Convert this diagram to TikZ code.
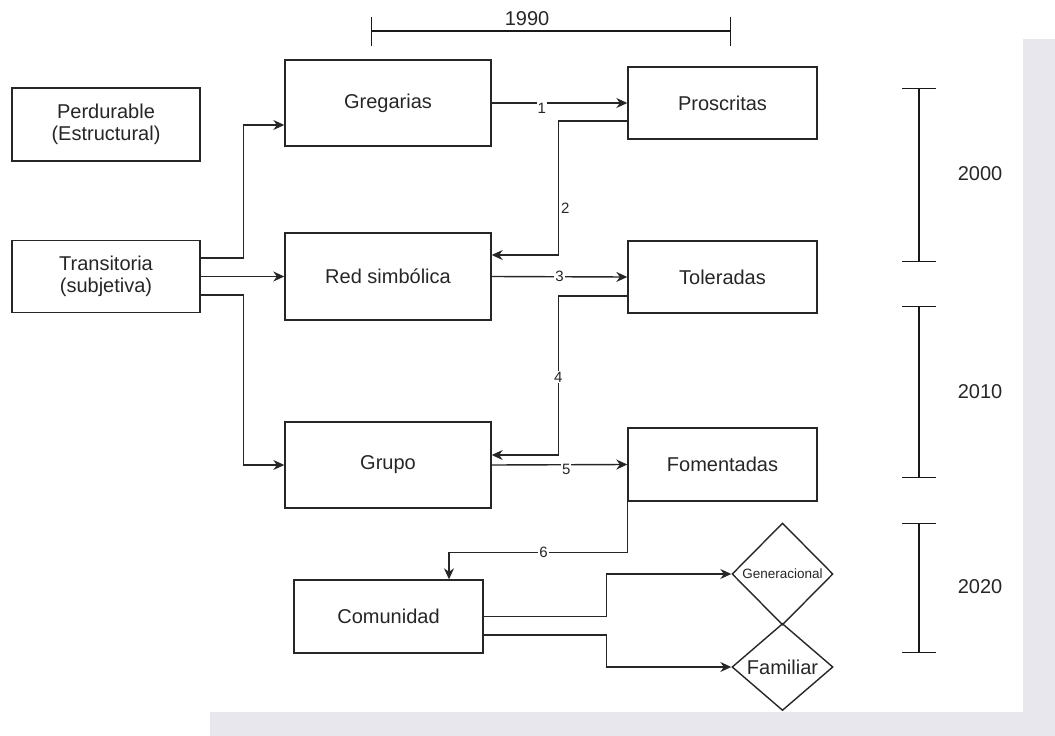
\documentclass[tikz,border=0pt]{standalone}
\usepackage{fontspec}
\setmainfont{Liberation Sans}
\usetikzlibrary{arrows.meta,shapes.geometric}

\definecolor{marca}{RGB}{231,231,237}

\begin{document}
\begin{tikzpicture}[x=1pt, y=-1pt, >={Stealth[length=11pt,width=10pt]},
    caja/.style={draw=black!85, line width=1.4pt, text=black!85, align=center, inner sep=0pt, font=\fontsize{20}{22}\selectfont},
    rombo/.style={diamond, draw=black!85, line width=1.4pt, text=black!85, inner sep=0pt},
    flecha/.style={->, draw=black!85, line width=1.4pt},
    num/.style={fill=white, inner sep=1pt, text=black!85, font=\fontsize{15}{17}\selectfont},
    periodo/.style={{Bar[width=34pt]}-{Bar[width=34pt]}, draw=black!90, line width=1.4pt},
    anio/.style={text=black!85, font=\fontsize{20}{22}\selectfont}]
    \useasboundingbox (0,0) rectangle (1055,736);
    \fill[marca] (1023,39) rectangle (1055,736);
    \fill[marca] (210,712) rectangle (1055,736);

    \node[caja, minimum width=188pt, minimum height=73pt] (perd) at (106,124.5) {Perdurable\\(Estructural)};
    \node[caja, minimum width=188pt, minimum height=72pt] (trans) at (106,276.5) {Transitoria\\(subjetiva)};
    \node[caja, minimum width=206pt, minimum height=86pt] (greg) at (388,103) {Gregarias};
    \node[caja, minimum width=206pt, minimum height=87pt] (red) at (388,276.5) {Red simbólica};
    \node[caja, minimum width=206pt, minimum height=86pt] (grupo) at (388,465) {Grupo};
    \node[caja, minimum width=189pt, minimum height=72pt] (pros) at (722.5,103) {Proscritas};
    \node[caja, minimum width=189pt, minimum height=72pt] (tol) at (722.5,277) {Toleradas};
    \node[caja, minimum width=189pt, minimum height=73pt] (fom) at (722.5,464.5) {Fomentadas};
    \node[caja, minimum width=189pt, minimum height=73pt] (com) at (388.5,616.5) {Comunidad};
    \node[rombo, minimum width=101pt, minimum height=102pt, font=\fontsize{13.5}{15}\selectfont] (gen) at (782.5,574) {Generacional};
    \node[rombo, minimum width=101pt, minimum height=87pt, font=\fontsize{20}{22}\selectfont] (fam) at (782.5,667) {Familiar};

    \draw[flecha] ([yshift=18.5pt]trans.east) -- ++(43,0) |- ([yshift=-22pt]greg.west);
    \draw[flecha] (trans.east) -- (red.west);
    \draw[flecha] ([yshift=-18.5pt]trans.east) -- ++(43,0) |- (grupo.west);

    \draw[flecha] (greg.east) -- node[num, pos=0.37, yshift=-5pt] {1} (pros.west);
    \draw[flecha] ([yshift=-18pt]pros.west) -- ++(-69,0) |- node[pos=0.325, right, inner sep=2pt, text=black!85, font=\fontsize{15}{17}\selectfont] {2} ([yshift=21.5pt]red.east);
    \draw[flecha] (red.east) -- node[num] {3} (tol.west);
    \draw[flecha] ([yshift=-19pt]tol.west) -- ++(-69,0) |- node[num, pos=0.255] {4} ([yshift=10pt]grupo.east);
    \draw[flecha] (grupo.east) -- node[num, pos=0.55, yshift=-5pt] {5} (fom.west);
    \draw[flecha] (fom.south west) -- ++(0,51) -| node[num, pos=0.235] {6} ([xshift=60.5pt]com.north);
    \draw[flecha] (com.east) -- ++(123,0) |- (gen.west);
    \draw[flecha] ([yshift=-18.5pt]com.east) -- ++(123,0) |- (fam.west);

    \draw[periodo, {Bar[width=29pt]}-{Bar[width=29pt]}] (371,31) -- (731,31);
    \node[anio] (a1990) at (527,19) {1990};
    \draw[periodo] (919,88) -- (919,262);
    \node[anio] (a2000) at (980,174) {2000};
    \draw[periodo] (919,306) -- (919,478);
    \node[anio] (a2010) at (980,392) {2010};
    \draw[periodo] (919,523) -- (919,653);
    \node[anio] (a2020) at (980,587) {2020};
  \end{tikzpicture}
\end{document}
